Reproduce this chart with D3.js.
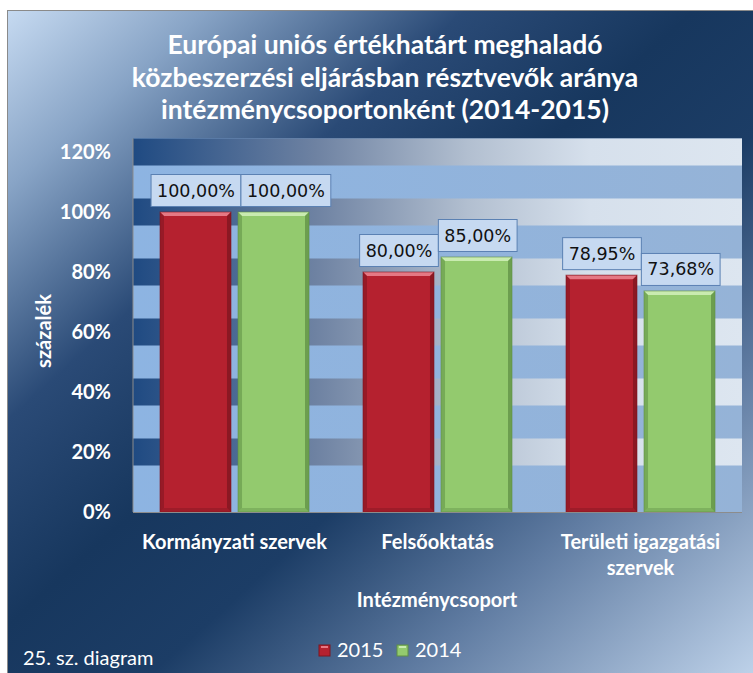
<!DOCTYPE html>
<html>
<head>
<meta charset="utf-8">
<script src="https://cdn.jsdelivr.net/npm/d3@7.9.0/dist/d3.min.js"></script>
<style>
  html, body { margin: 0; padding: 0; background: #fff; }
  svg { display: block; }
</style>
</head>
<body>
<div id="chart"></div>
<script>
// ------------------- Data -------------------
const titleLines = [
  'Európai uniós értékhatárt meghaladó',
  'közbeszerzési eljárásban résztvevők aránya',
  'intézménycsoportonként (2014-2015)'
];
const categories = ['Kormányzati szervek', 'Felsőoktatás', 'Területi igazgatási szervek'];
const seriesNames = ['2015', '2014'];
const values2015 = [100, 80, 78.95];
const values2014 = [100, 85, 73.68];
const yTicks = [0, 20, 40, 60, 80, 100, 120];
const yTitle = 'százalék';
const xTitle = 'Intézménycsoport';
const note = '25. sz. diagram';

const seriesValues = { '2015': values2015, '2014': values2014 };
const colors = {
  '2015': { main: '#b5212f', light: '#e57884', dark: '#7e1620' },
  '2014': { main: '#93ca6e', light: '#c9ebb0', dark: '#5f8f45' }
};

const boldFont = 'bold 20px Lato, "Open Sans", sans-serif';
const plainFont = '20px Lato, "Open Sans", sans-serif';

// ------------------- Layout -------------------
const width = 753, height = 673;
const plot = { left: 133, right: 742 };

const svg = d3.select('#chart').append('svg')
  .attr('width', width)
  .attr('height', height);

const defs = svg.append('defs');

const bg = defs.append('linearGradient').attr('id', 'bg')
  .attr('x1', 0).attr('y1', 0).attr('x2', 1).attr('y2', 1);
[[0, '#c6daf1'], [0.13, '#88a4c6'], [0.3, '#2a4a76'], [0.45, '#17375e'],
 [0.58, '#1c3d66'], [0.75, '#607ca2'], [1, '#c8dbf1']]
  .forEach(([o, c]) => bg.append('stop').attr('offset', o).attr('stop-color', c));

const band = defs.append('linearGradient').attr('id', 'band')
  .attr('x1', 0).attr('y1', 0).attr('x2', 1).attr('y2', 0);
[[0, '#1f4a82'], [0.3, '#6e82a2'], [0.55, '#b2bfd0'], [0.75, '#d6e0ec'], [1, '#dde6f0']]
  .forEach(([o, c]) => band.append('stop').attr('offset', o).attr('stop-color', c));

const light = defs.append('linearGradient').attr('id', 'lightband')
  .attr('x1', 0).attr('y1', 0).attr('x2', 1).attr('y2', 0);
[[0, '#8db4e2'], [1, '#95b3d7']]
  .forEach(([o, c]) => light.append('stop').attr('offset', o).attr('stop-color', c));

// chart background with border
svg.append('rect')
  .attr('x', 7.5).attr('y', 10.5)
  .attr('width', width + 10).attr('height', height + 10)
  .attr('fill', 'url(#bg)')
  .attr('stroke', '#8a8a8a');

// ------------------- Scales -------------------
const y = d3.scaleLinear().domain([0, 120]).range([512, 152]);
const x0 = d3.scaleBand().domain(categories).range([plot.left, plot.right]).padding(0);
const x1 = d3.scaleBand().domain(seriesNames)
  .range([27, x0.bandwidth() - 27]).paddingInner(0.09);

const plotTop = y(124.5);

// plot area: light base + dark bands around each gridline
const plotG = svg.append('g');
plotG.append('rect')
  .attr('x', plot.left).attr('y', plotTop)
  .attr('width', plot.right - plot.left).attr('height', y(0) - plotTop)
  .attr('fill', 'url(#lightband)');

plotG.selectAll('rect.band')
  .data(yTicks.filter(d => d > 0))
  .join('rect')
  .attr('class', 'band')
  .attr('x', plot.left)
  .attr('y', d => y(Math.min(d + 4.5, 124.5)))
  .attr('width', plot.right - plot.left)
  .attr('height', d => y(d - 4.5) - y(Math.min(d + 4.5, 124.5)))
  .attr('fill', 'url(#band)');

// ------------------- Bars -------------------
const rows = [];
categories.forEach((c, i) => {
  seriesNames.forEach(s => rows.push({ cat: c, series: s, value: seriesValues[s][i] }));
});

const bev = 4;
const bars = svg.append('g').selectAll('g')
  .data(rows)
  .join('g')
  .attr('transform', d => `translate(${x0(d.cat) + x1(d.series)},${y(d.value)})`);

bars.each(function(d) {
  const g = d3.select(this);
  const w = x1.bandwidth();
  const h = y(0) - y(d.value);
  const col = colors[d.series];
  g.append('rect').attr('width', w).attr('height', h).attr('fill', col.main);
  // top bevel
  g.append('path')
    .attr('d', `M0,0 L${w},0 L${w - bev},${bev} L${bev},${bev} Z`)
    .attr('fill', col.light);
  // left/right bevel
  g.append('path')
    .attr('d', `M0,0 L${bev},${bev} L${bev},${h - bev} L0,${h} Z`)
    .attr('fill', col.dark).attr('opacity', 0.55);
  g.append('path')
    .attr('d', `M${w},0 L${w - bev},${bev} L${w - bev},${h - bev} L${w},${h} Z`)
    .attr('fill', col.dark).attr('opacity', 0.75);
  // bottom bevel
  g.append('path')
    .attr('d', `M0,${h} L${bev},${h - bev} L${w - bev},${h - bev} L${w},${h} Z`)
    .attr('fill', col.dark).attr('opacity', 0.4);
  g.append('rect').attr('width', w).attr('height', h)
    .attr('fill', 'none').attr('stroke', col.dark).attr('stroke-opacity', 0.6);
});

// ------------------- Axes -------------------
svg.append('line')
  .attr('x1', plot.left).attr('x2', plot.left)
  .attr('y1', plotTop).attr('y2', y(0))
  .attr('stroke', '#8c8c8c');
svg.append('line')
  .attr('x1', plot.left).attr('x2', plot.right)
  .attr('y1', y(0) + 0.5).attr('y2', y(0) + 0.5)
  .attr('stroke', '#8c8c8c');

const yAxis = svg.append('g')
  .attr('transform', `translate(${plot.left - 19},0)`)
  .call(d3.axisLeft(y).tickValues(yTicks).tickSize(0).tickFormat(d => d + '%'));
yAxis.select('.domain').remove();
yAxis.selectAll('text')
  .attr('fill', '#fff')
  .style('font', boldFont);

const xAxis = svg.append('g')
  .attr('transform', `translate(0,${y(0) + 22})`)
  .call(d3.axisBottom(x0).tickSize(0).tickFormat(''));
xAxis.select('.domain').remove();

xAxis.selectAll('.tick').each(function(d) {
  const t = d3.select(this).append('text')
    .attr('fill', '#fff')
    .attr('text-anchor', 'middle')
    .style('font', boldFont);
  // wrap label to the band width
  const words = d.split(' ');
  let lines = [], line = [];
  const probe = t.append('tspan');
  words.forEach(w => {
    probe.text([...line, w].join(' '));
    if (line.length && probe.node().getComputedTextLength() > 200) {
      lines.push(line.join(' '));
      line = [w];
    } else line.push(w);
  });
  lines.push(line.join(' '));
  probe.remove();
  lines.forEach((l, i) => t.append('tspan').attr('x', 0).attr('y', 15 + i * 26).text(l));
});

// axis titles
svg.append('text')
  .attr('transform', `translate(51,331) rotate(-90)`)
  .attr('text-anchor', 'middle')
  .attr('fill', '#fff')
  .style('font', boldFont)
  .text(yTitle);

svg.append('text')
  .attr('x', 437).attr('y', 607)
  .attr('text-anchor', 'middle')
  .attr('fill', '#fff')
  .style('font', boldFont)
  .text(xTitle);

// ------------------- Title -------------------
svg.append('g').selectAll('text')
  .data(titleLines)
  .join('text')
  .attr('x', 385)
  .attr('y', (d, i) => 54 + i * 32.5)
  .attr('text-anchor', 'middle')
  .attr('fill', '#fff')
  .style('font', 'bold 26.5px Lato, "Open Sans", sans-serif')
  .text(d => d);

// ------------------- Data labels -------------------
const fmt = v => d3.format('.2f')(v).replace('.', ',') + '%';
const labelG = svg.append('g');
const boxes = [];
rows.forEach(d => {
  const cx = x0(d.cat) + x1(d.series) + x1.bandwidth() / 2;
  const g = labelG.append('g');
  const rect = g.append('rect');
  const txt = g.append('text')
    .attr('text-anchor', 'middle')
    .attr('fill', '#111')
    .style('font', '17.5px "DejaVu Sans", sans-serif')
    .text(fmt(d.value));
  const tw = txt.node().getComputedTextLength();
  const bw = tw + 12, bh = 32;
  let left = cx - bw / 2;
  const top = y(d.value) - 6 - bh;
  // push right if it overlaps the previous label
  const prev = boxes[boxes.length - 1];
  if (prev && left < prev.right && top < prev.bottom && top + bh > prev.top) left = prev.right;
  boxes.push({ right: left + bw, top, bottom: top + bh });
  rect.attr('x', left + 0.5).attr('y', top + 0.5)
    .attr('width', bw).attr('height', bh)
    .attr('fill', '#c6d9f1').attr('stroke', '#5b81b3');
  txt.attr('x', left + bw / 2 + 0.5).attr('y', top + bh / 2 + 6.5);
});

// ------------------- Legend -------------------
const legend = svg.append('g').attr('transform', 'translate(319,645)');
const li = legend.selectAll('g')
  .data(seriesNames)
  .join('g')
  .attr('transform', (d, i) => `translate(${i * 78},0)`);
li.append('rect')
  .attr('width', 11).attr('height', 11)
  .attr('fill', d => colors[d].main)
  .attr('stroke', d => colors[d].dark).attr('stroke-width', 1);
li.append('rect')
  .attr('x', 2).attr('y', 1).attr('width', 7).attr('height', 2)
  .attr('fill', d => colors[d].light);
li.append('text')
  .attr('x', 18).attr('y', 12)
  .attr('fill', '#fff')
  .style('font', plainFont)
  .text(d => d);

svg.append('text')
  .attr('x', 23).attr('y', 665)
  .attr('fill', '#fff')
  .style('font', plainFont)
  .text(note);
</script>
</body>
</html>
